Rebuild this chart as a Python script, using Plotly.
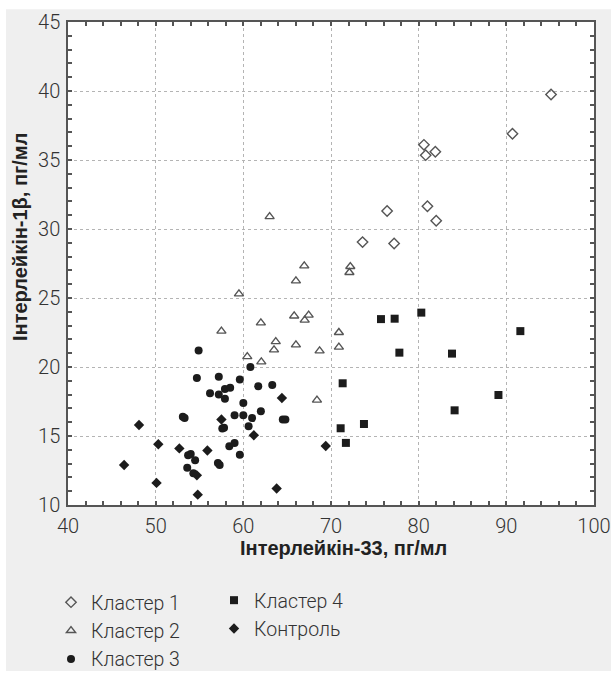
import plotly.graph_objects as go

# ---- data ----
c1_x = [95.1, 90.7, 80.6, 80.8, 81.9, 76.4, 81.0, 82.0, 73.6, 77.2]
c1_y = [39.75, 36.9, 36.1, 35.35, 35.6, 31.3, 31.65, 30.6, 29.05, 28.95]

c2_x = [63.0, 66.95, 66.0, 72.2, 72.1, 59.5, 65.8, 67.45, 67.0, 62.0, 57.5, 70.9,
        63.7, 63.5, 66.0, 68.7, 70.9, 60.45, 62.05, 68.4]
c2_y = [30.9, 27.33, 26.24, 27.28, 26.85, 25.3, 23.7, 23.76, 23.4, 23.2, 22.6, 22.5,
        21.84, 21.24, 21.6, 21.17, 21.44, 20.75, 20.37, 17.6]

c3_x = [54.9, 60.8, 54.7, 57.2, 59.6, 56.2, 57.2, 57.9, 57.9, 58.5, 61.7, 63.3,
        60.0, 53.1, 53.3, 59.0, 60.0, 61.0, 62.0, 64.5, 64.8, 57.8, 57.6, 60.6,
        54.0, 53.7, 58.4, 59.0, 59.6, 54.5, 57.1, 57.3, 53.6, 54.3]
c3_y = [21.2, 20.0, 19.2, 19.3, 19.1, 18.1, 18.0, 17.7, 18.4, 18.5, 18.6, 18.7,
        17.4, 16.4, 16.3, 16.5, 16.5, 16.3, 16.8, 16.2, 16.2, 15.6, 15.55, 15.7,
        13.7, 13.6, 14.25, 14.5, 13.65, 13.25, 13.05, 12.9, 12.7, 12.3]

c4_x = [75.7, 77.26, 80.3, 91.6, 77.8, 83.8, 71.33, 89.1, 84.1, 73.76, 71.1, 71.7]
c4_y = [23.47, 23.5, 23.94, 22.6, 21.04, 20.97, 18.82, 17.97, 16.86, 15.87, 15.56, 14.5]

ctrl_x = [48.1, 46.4, 50.1, 50.3, 52.7, 54.8, 57.5, 64.4, 63.8, 69.4, 55.9, 61.2, 54.7]
ctrl_y = [15.8, 12.9, 11.6, 14.4, 14.1, 10.75, 16.2, 17.75, 11.2, 14.28, 13.95, 15.05, 12.15]

names = ["Кластер 1", "Кластер 2", "Кластер 3", "Кластер 4", "Контроль"]

x_ticks = [40, 50, 60, 70, 80, 90, 100]
y_ticks = [10, 15, 20, 25, 30, 35, 40, 45]

x_title = "Інтерлейкін-33, пг/мл"
y_title = "Інтерлейкін-1β, пг/мл"

# ---- figure ----
DARK = "#1c1c1c"
OPEN = "#555555"
BG = "#efefef"
TXT = "#333333"
LIGHT_FONT = dict(family="Roboto, Liberation Sans, sans-serif", size=20, color=TXT, weight=300)

fig = go.Figure()
fig.add_trace(go.Scatter(x=c1_x, y=c1_y, mode="markers", name=names[0], legend="legend",
                         marker=dict(symbol="diamond-open", size=8, color=OPEN, line=dict(width=1.4, color=OPEN))))
fig.add_trace(go.Scatter(x=c2_x, y=c2_y, mode="markers", name=names[1], legend="legend",
                         marker=dict(symbol="triangle-up-open", size=8, color=OPEN, line=dict(width=1.4, color=OPEN))))
fig.add_trace(go.Scatter(x=c3_x, y=c3_y, mode="markers", name=names[2], legend="legend",
                         marker=dict(symbol="circle", size=8, color=DARK, line=dict(width=0))))
fig.add_trace(go.Scatter(x=c4_x, y=c4_y, mode="markers", name=names[3], legend="legend2",
                         marker=dict(symbol="square", size=8, color=DARK, line=dict(width=0))))
fig.add_trace(go.Scatter(x=ctrl_x, y=ctrl_y, mode="markers", name=names[4], legend="legend2",
                         marker=dict(symbol="diamond", size=8, color=DARK, line=dict(width=0))))

L, R, T, B = 68, 611 - 594, 22, 676 - 505
PW = 611 - L - R
PH = 676 - T - B

def px2x(px):
    return (px - L) / PW

def px2y(py):
    return (676 - B - py) / PH

axis_common = dict(
    showline=True, linecolor="#555555", linewidth=1.5, mirror="allticks",
    ticks="inside", ticklen=4, tickcolor="#555555", tickwidth=1.5,
    showgrid=True, gridcolor="#b4b4b4", gridwidth=1, griddash="dot",
    zeroline=False, tickfont=LIGHT_FONT, automargin=False,
)

fig.update_xaxes(range=[40, 100], tickvals=x_ticks, ticktext=[str(v) for v in x_ticks],
                 minor=dict(dtick=2, ticks="inside", ticklen=4, tickcolor="#555555", tickwidth=1.5, showgrid=False),
                 ticklabelstandoff=2, **axis_common)
fig.update_yaxes(range=[10, 45], tickvals=y_ticks, ticktext=[str(v) for v in y_ticks],
                 minor=dict(dtick=1, ticks="inside", ticklen=4, tickcolor="#555555", tickwidth=1.5, showgrid=False),
                 ticklabelstandoff=2, **axis_common)

legend_common = dict(
    font=dict(family="Roboto, Liberation Sans, sans-serif", size=19.5, color=TXT, weight=300),
    bgcolor="rgba(0,0,0,0)", borderwidth=0, orientation="v",
    xanchor="left", yanchor="top", itemsizing="trace", tracegroupgap=0,
)

fig.update_layout(
    width=611, height=676,
    margin=dict(l=L, r=R, t=T, b=B, autoexpand=False),
    paper_bgcolor=BG, plot_bgcolor="white",
    showlegend=True,
    legend=dict(x=px2x(51), y=px2y(583), **legend_common),
    legend2=dict(x=px2x(214), y=px2y(581), **legend_common),
    annotations=[
        dict(text=x_title, xref="paper", yref="paper", x=px2x(343.5), y=px2y(548),
             xanchor="center", yanchor="middle", showarrow=False,
             font=dict(family="Liberation Sans, Arial, sans-serif", size=20, color="#222222", weight="bold")),
        dict(text=y_title, xref="paper", yref="paper", x=px2x(19.5), y=px2y(237.5),
             xanchor="center", yanchor="middle", showarrow=False, textangle=-90,
             font=dict(family="Liberation Sans, Arial, sans-serif", size=20, color="#222222", weight="bold")),
    ],
    shapes=[
        # white borders outside the grey panel
        dict(type="rect", xref="paper", yref="paper", x0=px2x(-5), x1=px2x(616), y0=px2y(9.3), y1=px2y(-5),
             fillcolor="white", line=dict(width=0), layer="above"),
        dict(type="rect", xref="paper", yref="paper", x0=px2x(-5), x1=px2x(6), y0=px2y(681), y1=px2y(-5),
             fillcolor="white", line=dict(width=0), layer="above"),
        dict(type="rect", xref="paper", yref="paper", x0=px2x(-5), x1=px2x(616), y0=px2y(681), y1=px2y(671),
             fillcolor="white", line=dict(width=0), layer="above"),
    ],
)

fig.write_html("out.html", config={"displayModeBar": False},
               post_script="document.body.style.margin='0';document.body.style.padding='0';")
